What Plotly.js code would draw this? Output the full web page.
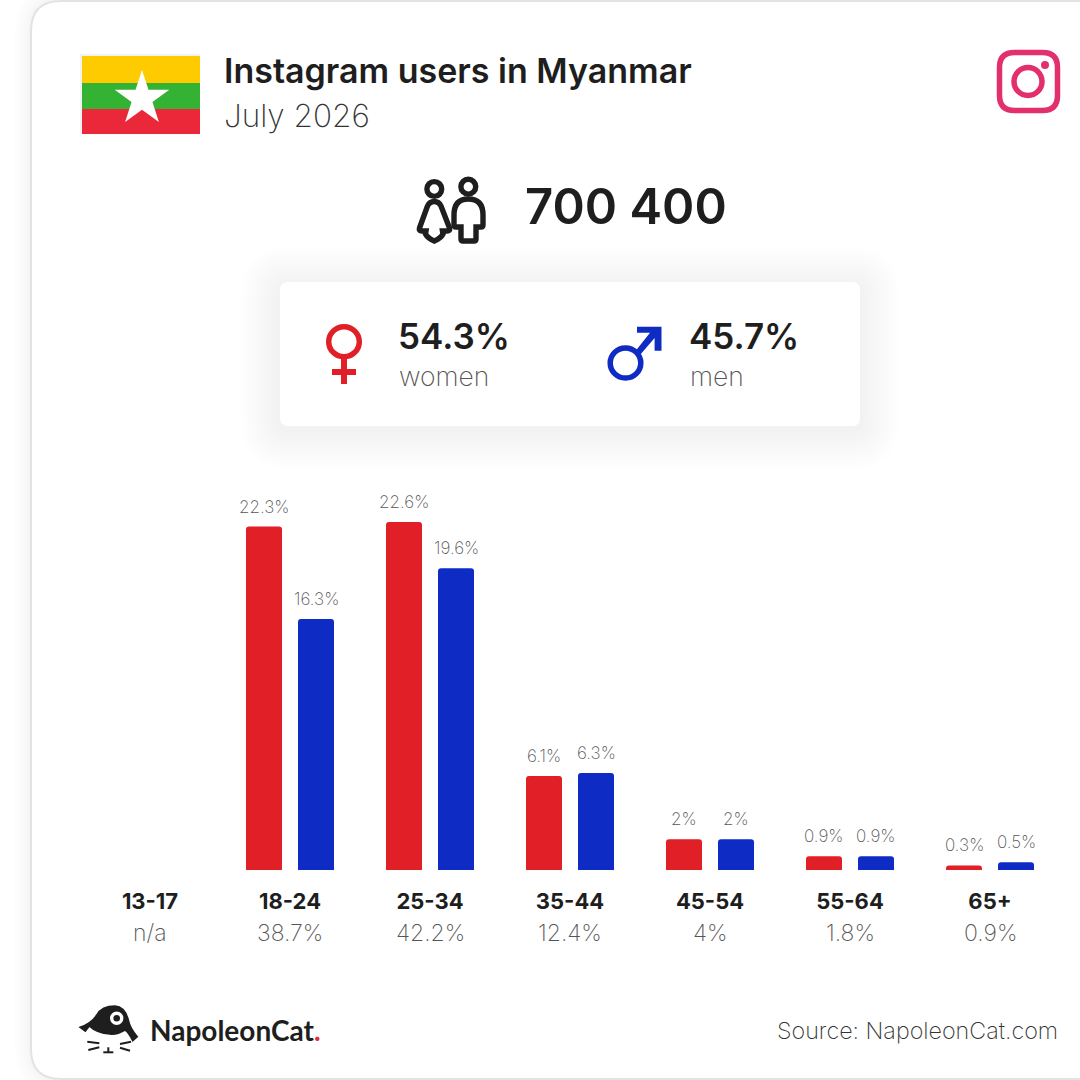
<!DOCTYPE html>
<html><head><meta charset="utf-8">
<script src="https://cdn.plot.ly/plotly-3.0.1.min.js"></script>
<style>html,body{margin:0;padding:0;background:#fff}</style>
</head><body><div id="chart" style="width:1080px;height:1080px"></div>
<script>
const categories = ['13-17','18-24','25-34','35-44','45-54','55-64','65+'];
const women = [null,22.3,22.6,6.1,2,0.9,0.3];
const men = [null,16.3,19.6,6.3,2,0.9,0.5];
const totals = ['n/a','38.7%','42.2%','12.4%','4%','1.8%','0.9%'];
const titleText = 'Instagram users in Myanmar';
const subtitleText = 'July 2026';
const totalUsers = '700 400';
const womenShare = '54.3%';
const menShare = '45.7%';
const sourceText = 'Source: NapoleonCat.com';

const RED='#E01F26', BLUE='#0E2BC3', DARK='#1E1E1E', GREY='#555555', FONT='Inter, sans-serif';
const L=80,T=470,W=980,H=400;
const fx=x=>(x-L)/W, fy=y=>(T+H-y)/H;
function P(s){ let i=0; return s.replace(/-?\d+(\.\d+)?/g,m=>{const v=+m; const o=(i++%2===0)?fx(v):fy(v); return o.toFixed(6);}); }
function rr(x0,y0,x1,y1,r){return `M${x0+r} ${y0} L${x1-r} ${y0} Q${x1} ${y0} ${x1} ${y0+r} L${x1} ${y1-r} Q${x1} ${y1} ${x1-r} ${y1} L${x0+r} ${y1} Q${x0} ${y1} ${x0} ${y1-r} L${x0} ${y0+r} Q${x0} ${y0} ${x0+r} ${y0} Z`;}
const base={xref:'paper',yref:'paper',layer:'below'};
function path(d,o={}){return Object.assign({},base,{type:'path',path:P(d),line:{width:o.w||0,color:o.c||'rgba(0,0,0,0)'},fillcolor:o.f||'rgba(0,0,0,0)'});}
function circ(cx,cy,rx,ry,o={}){return Object.assign({},base,{type:'circle',x0:fx(cx-rx),x1:fx(cx+rx),y0:fy(cy+ry),y1:fy(cy-ry),line:{width:o.w||0,color:o.c||'rgba(0,0,0,0)'},fillcolor:o.f||'rgba(0,0,0,0)'});}

const shapes=[];
// outer panel: soft shadow, border, white fill
[32,24,16,10,5].forEach(w=>shapes.push(path(rr(31,1,1180,1079,30),{w:w,c:'rgba(0,0,0,0.006)'})));
shapes.push(path(rr(31,1,1180,1079,30),{w:2,c:'#E3E3E3',f:'#FFFFFF'}));
// white stat card with shadow
for(let e=39;e>=3;e-=3){shapes.push(path(rr(280-e,282-e+4,860+e,426+e+4,8+e),{f:'rgba(0,0,0,0.002)'}));}
shapes.push(path(rr(280,282,860,426,8),{f:'#FFFFFF'}));
// flag
shapes.push(path('M80 54 L200 54 L200 56 L82 56 L82 134 L80 134 Z',{f:'#F2F2F2'}));
shapes.push(path('M82 56 L200 56 L200 83 L82 83 Z',{f:'#FECB00'}));
shapes.push(path('M82 83 L200 83 L200 109 L82 109 Z',{f:'#34B233'}));
shapes.push(path('M82 109 L200 109 L200 134 L82 134 Z',{f:'#EA2839'}));
let star='';
for(let k=0;k<10;k++){const r=k%2?11:28.7,a=-Math.PI/2+k*Math.PI/5;star+=(k?' L':'M')+(142+r*Math.cos(a)).toFixed(2)+' '+(98.7+r*Math.sin(a)).toFixed(2);}
shapes.push(path(star+' Z',{f:'#FFFFFF'}));
// instagram
const IG='#E42F6E';
shapes.push(path(rr(999.5,52.5,1057.5,110.5,15),{w:5.5,c:IG}));
shapes.push(circ(1028,81.5,14,14,{w:5.5,c:IG}));
shapes.push(circ(1045,65,4,4,{f:IG}));
// people
const PW=5.4;
shapes.push(circ(434.3,189,7.4,7.4,{w:PW,c:DARK}));
shapes.push(circ(468.3,186.7,7.4,7.4,{w:PW,c:DARK}));
shapes.push(path('M434.3 201.5 Q439 201.5 441 206 L449.5 228 Q450.5 231 447 231 L442.5 231 L443 234 Q441 238 434.3 241 Q427.5 238 425.5 234 L426 231 L422 231 Q418.5 231 419.5 228 L427.5 206 Q429.5 201.5 434.3 201.5 Z',{w:PW,c:DARK}));
shapes.push(path('M468.3 199 Q483 199 483 215 L483 225 Q483 227 481 227 L476 227 L476 239 Q476 241 474 241 L463 241 Q461 241 461 239 L461 227 L456 227 Q454 227 454 225 L454 215 Q454 199 468.3 199 Z',{w:PW,c:DARK}));
// female symbol
shapes.push(circ(344,341.7,15.3,15,{w:5.5,c:RED}));
shapes.push(path('M341 358 L347 358 L347 369 L356 369 L356 375 L347 375 L347 384 L341 384 L341 375 L332 375 L332 369 L341 369 Z',{f:RED}));
// male symbol
shapes.push(circ(625.5,363,15.3,15,{w:5.5,c:BLUE}));
shapes.push(path('M637 326.7 L661.5 326.7 L661.5 350.7 L654.6 350.7 L654.6 338 L640 355 L635.5 351 L650 332.7 L637 332.7 Z',{f:BLUE}));
// NapoleonCat logo
const lx=x=>(60+x/3).toFixed(1), ly=y=>(990+y/3).toFixed(1);
const lp=(x,y)=>lx(x)+' '+ly(y);
const hat=`M${lp(60,112)} Q${lp(95,100)} ${lp(110,75)} Q${lp(125,48)} ${lp(165,48)} Q${lp(195,50)} ${lp(205,90)} Q${lp(210,115)} ${lp(232,140)} L${lp(218,152)} Q${lp(205,125)} ${lp(195,120)} Q${lp(170,135)} ${lp(150,132)} Q${lp(110,130)} ${lp(88,108)} L${lp(76,124)} Z`;
shapes.push(path(hat,{f:DARK,c:DARK,w:1.5}));
shapes.push(circ(+lx(170),+ly(85),5,5,{w:3.4,c:'#FFFFFF',f:DARK}));
[[[82,155],[118,160]],[[85,180],[118,172]],[[180,162],[213,155]],[[180,173],[210,182]],[[145,172],[145,187]],[[130,187],[160,187]]].forEach(s=>
  shapes.push(path(`M${lp(s[0][0],s[0][1])} L${lp(s[1][0],s[1][1])}`,{w:2,c:DARK})));

function ann(px,py,text,size,color,weight,anchor){return {xref:'paper',yref:'paper',x:fx(px),y:fy(py),text:text,showarrow:false,xanchor:anchor||'left',yanchor:'middle',borderpad:0,font:{family:FONT,size:size,color:color,weight:weight}};}
const annotations=[
 ann(223,70,titleText,34,DARK,600),
 ann(223,115,subtitleText,31.5,'#333333',200),
 ann(524,206,totalUsers,49,DARK,600),
 ann(397,336,womenShare,35,DARK,600),
 ann(398,376,'women',26.5,GREY,200),
 ann(688,336,menShare,35,DARK,600),
 ann(689,376,'men',26.5,GREY,200),
 ann(149,1030,'<b>NapoleonCat</b><span style="color:#EA2839"><b>.</b></span>',28,DARK,700),
 ann(1059,1030,sourceText,23.3,'#333333',200,'right')
];
annotations[7].font.family='Lato, sans-serif';
totals.forEach((t,i)=>annotations.push(ann(150+i*140,933,t,23,GREY,200,'center')));
function barLabels(vals,shift){vals.forEach((v,i)=>{ if(v===null) return;
  annotations.push({xref:'x',yref:'y',x:categories[i],y:v,xshift:shift,yshift:9,text:v+'%',showarrow:false,xanchor:'center',yanchor:'bottom',borderpad:0,font:{family:FONT,size:17,color:GREY,weight:200}});});}
barLabels(women,-26); barLabels(men,26);

const traces=[
 {type:'bar',name:'women',x:categories,y:women,marker:{color:RED,line:{width:0}},hoverinfo:'skip'},
 {type:'bar',name:'men',x:categories,y:men,marker:{color:BLUE,line:{width:0}},hoverinfo:'skip'}
];
const layout={width:1080,height:1080,margin:{l:L,r:20,t:T,b:210,pad:0},paper_bgcolor:'#FFFFFF',plot_bgcolor:'rgba(0,0,0,0)',
 showlegend:false,barmode:'group',bargap:0.257,bargroupgap:0.3077,barcornerradius:3,
 xaxis:{type:'category',categoryorder:'array',categoryarray:categories,range:[-0.5,6.5],showgrid:false,zeroline:false,showline:false,
   ticks:'outside',ticklen:12,tickcolor:'rgba(0,0,0,0)',tickfont:{family:FONT,size:22,color:DARK,weight:700},fixedrange:true},
 yaxis:{range:[0,400/15.4],visible:false,fixedrange:true},
 shapes:shapes,annotations:annotations};
Plotly.newPlot('chart',traces,layout,{displayModeBar:false,staticPlot:true});
</script></body></html>
